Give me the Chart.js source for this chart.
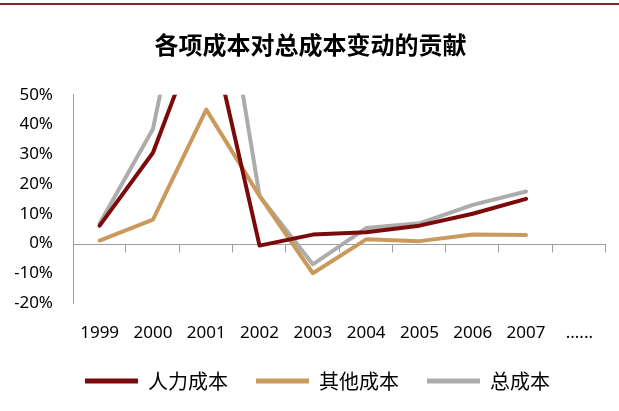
<!DOCTYPE html>
<html>
<head>
<meta charset="utf-8">
<script src="https://cdn.jsdelivr.net/npm/chart.js@4/dist/chart.umd.min.js"></script>
<style>
    html, body { margin: 0; padding: 0; background: #fff; }
    #wrap { position: relative; width: 619px; height: 411px; }
    #topRule { position: absolute; left: 0; top: 3px; width: 619px; height: 2px; background: #7d2626; }
</style>
</head>
<body>
<div id="wrap">
    <div id="topRule"></div>
    <canvas id="chart" width="619" height="411"></canvas>
</div>
<script>
// categories and series (percent)
const years = ['1999', '2000', '2001', '2002', '2003', '2004', '2005', '2006', '2007', '......'];
const laborCost = [6, 30.5, 78, -0.7, 3, 3.8, 6, 10, 15, null];
const otherCost = [1, 8, 45, 16, -10, 1.4, 0.8, 3, 2.9, null];
const totalCost = [6.7, 38.5, 125, 16, -7, 5.2, 6.8, 13, 17.5, null];
const seriesNames = ['人力成本', '其他成本', '总成本'];
const seriesColors = ['#7b0a0a', '#c99a5c', '#acacac'];
const yMin = -20, yMax = 50, yStep = 10;

function lineDs(label, data, color) {
    return {
        label: label,
        data: data,
        borderColor: color,
        backgroundColor: color,
        borderWidth: 4,
        pointRadius: 0,
        tension: 0,
        clip: 0,
        borderCapStyle: 'round',
        borderJoinStyle: 'round'
    };
}

// zero line with category tick marks hanging below it (Excel style)
const zeroAxis = {
    id: 'zeroAxis',
    beforeDatasetsDraw: function (chart) {
        const x = chart.scales.x, y = chart.scales.y;
        const y0 = Math.round(y.getPixelForValue(0)) + 0.5;
        const ctx = chart.ctx;
        const n = years.length;
        const w = (x.right - x.left) / n;
        ctx.save();
        ctx.strokeStyle = '#9e9e9e';
        ctx.lineWidth = 1;
        ctx.beginPath();
        ctx.moveTo(x.left, y0);
        ctx.lineTo(x.right, y0);
        for (let i = 1; i <= n; i++) {
            const px = Math.round(x.left + i * w) - 0.5;
            ctx.moveTo(px, y0);
            ctx.lineTo(px, y0 + 8);
        }
        ctx.stroke();
        ctx.restore();
    }
};

// legend in the original sits a little right of the canvas centre
const nudgeLegend = {
    id: 'nudgeLegend',
    afterLayout: function (chart) {
        const lg = chart.legend;
        if (!lg) return;
        lg.left += 7;
        lg.right += 7;
        (lg.legendHitBoxes || []).forEach(function (h) { h.left += 7; });
    }
};

new Chart(document.getElementById('chart'), {
    type: 'line',
    data: {
        labels: years,
        datasets: [
            lineDs(seriesNames[0], laborCost, seriesColors[0]),
            lineDs(seriesNames[1], otherCost, seriesColors[1]),
            lineDs(seriesNames[2], totalCost, seriesColors[2])
        ]
    },
    options: {
        responsive: false,
        animation: false,
        layout: { padding: { left: 15, right: 13, top: 0, bottom: 10 } },
        plugins: {
            title: {
                display: true,
                text: '各项成本对总成本变动的贡献',
                color: '#000',
                font: { family: '"Noto Sans CJK SC"', size: 24, weight: 'bold' },
                padding: { top: 30, bottom: 36 }
            },
            legend: {
                position: 'bottom',
                labels: {
                    boxWidth: 53,
                    boxHeight: 5,
                    padding: 28,
                    color: '#000',
                    font: { family: '"Noto Sans CJK SC"', size: 20 },
                    generateLabels: function (chart) {
                        return chart.data.datasets.map(function (ds, i) {
                            return {
                                text: ds.label,
                                fillStyle: ds.borderColor,
                                strokeStyle: ds.borderColor,
                                lineWidth: 0,
                                datasetIndex: i,
                                fontColor: '#000'
                            };
                        });
                    }
                }
            },
            tooltip: { enabled: false }
        },
        scales: {
            x: {
                type: 'category',
                offset: true,
                grid: { display: false, drawTicks: false },
                border: { display: false },
                afterFit: function (scale) { scale.height = 40; },
                ticks: {
                    padding: 20,
                    color: '#000',
                    maxRotation: 0,
                    autoSkip: false,
                    font: { family: '"Noto Sans"', size: 17 }
                }
            },
            y: {
                min: yMin,
                max: yMax,
                grid: { display: false, drawTicks: false },
                border: { display: true, color: '#9e9e9e', width: 1 },
                afterFit: function (scale) { scale.width = 58; },
                ticks: {
                    stepSize: yStep,
                    padding: 20,
                    color: '#000',
                    font: { family: '"Noto Sans"', size: 17 },
                    callback: function (v) { return v + '%'; }
                }
            }
        }
    },
    plugins: [zeroAxis, nudgeLegend]
});
</script>
</body>
</html>
